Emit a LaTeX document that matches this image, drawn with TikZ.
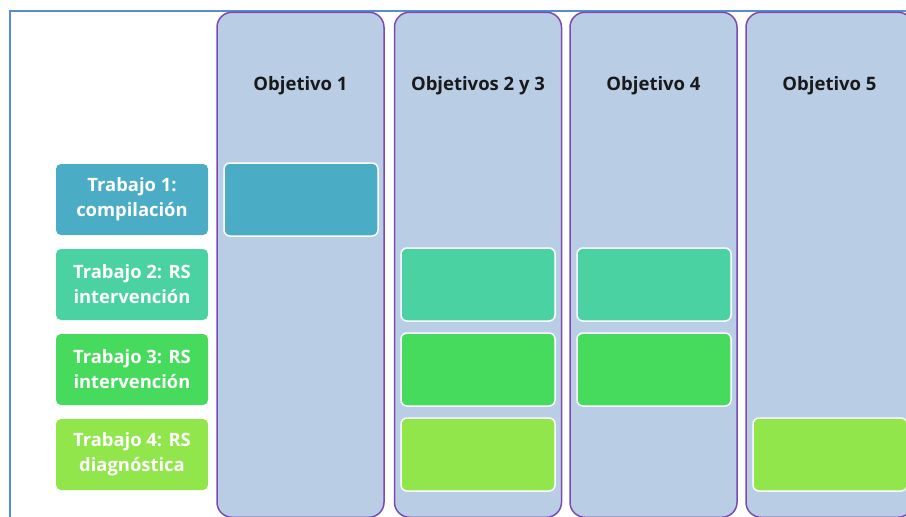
\documentclass[tikz,border=0pt]{standalone}
\usepackage{fontspec}
\setmainfont{Open Sans}
\definecolor{colfill}{HTML}{B9CDE5}
\definecolor{colborder}{HTML}{7B4AB5}
\definecolor{framecol}{HTML}{5A8AD0}
\definecolor{rowA}{HTML}{4BACC6}
\definecolor{rowB}{HTML}{4AD2A3}
\definecolor{rowC}{HTML}{47DB5D}
\definecolor{rowD}{HTML}{90E64A}
\begin{document}
\begin{tikzpicture}[x=1pt,y=-1pt,
  objcol/.style={draw=colborder, fill=colfill, line width=1.5pt, rounded corners=15pt,
    minimum width=167pt, minimum height=505pt, anchor=north, inner sep=0pt},
  header/.style={font=\fontsize{18.5}{22}\selectfont\bfseries, text=black!90},
  rowlabel/.style={rounded corners=5pt, minimum width=152pt, minimum height=71pt,
    inner sep=0pt, align=center, text=white, font=\fontsize{18.4}{25}\selectfont\bfseries},
  cell/.style={draw=white, line width=1.5pt, rounded corners=6pt,
    minimum width=154pt, minimum height=73pt, inner sep=0pt}]
  \clip (0,0) rectangle (906,517);
  % outer frame
  \draw[framecol, line width=2pt] (9.5,10.5) rectangle (940,560);
  % objective columns
  \node[objcol] (col1) at (300.5,11.5) {};
  \node[objcol] (col2) at (478,11.5) {};
  \node[objcol] (col3) at (653.5,11.5) {};
  \node[objcol] (col4) at (829.5,11.5) {};
  % column headers
  \node[header] (h1) at (300.5,85.5) {Objetivo 1};
  \node[header] (h2) at (478,85.5) {Objetivos 2 y 3};
  \node[header] (h3) at (653.5,85.5) {Objetivo 4};
  \node[header] (h4) at (829.5,85.5) {Objetivo 5};
  % work labels
  \node[rowlabel, fill=rowA] (t1) at (132,199.5) {Trabajo 1:\\compilación};
  \node[rowlabel, fill=rowB] (t2) at (132,284.5) {Trabajo 2: RS\\intervención};
  \node[rowlabel, fill=rowC] (t3) at (132,369.5) {Trabajo 3: RS\\intervención};
  \node[rowlabel, fill=rowD] (t4) at (132,454.5) {Trabajo 4: RS\\diagnóstica};
  % cells marking which work covers which objective
  \node[cell, fill=rowA] (c11) at (301,199.5) {};
  \node[cell, fill=rowB] (c22) at (478,284.5) {};
  \node[cell, fill=rowB] (c23) at (654,284.5) {};
  \node[cell, fill=rowC] (c32) at (478,369.5) {};
  \node[cell, fill=rowC] (c33) at (654,369.5) {};
  \node[cell, fill=rowD] (c42) at (478,454.5) {};
  \node[cell, fill=rowD] (c45) at (830,454.5) {};
\end{tikzpicture}
\end{document}
